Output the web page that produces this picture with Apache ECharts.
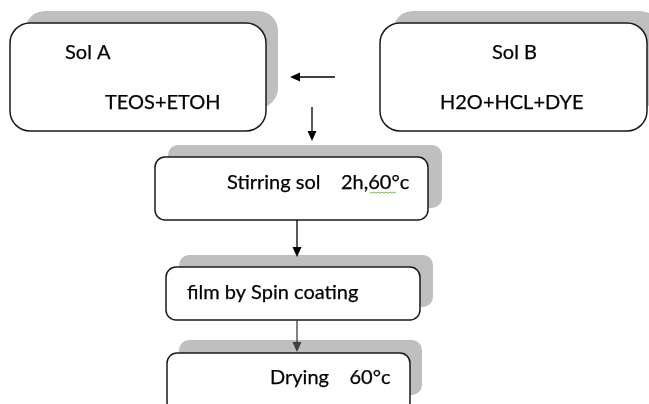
<!DOCTYPE html>
<html>
<head>
<meta charset="utf-8">
<script src="https://cdn.jsdelivr.net/npm/echarts@6/dist/echarts.min.js"></script>
<style>
html, body { margin: 0; padding: 0; background: #fff; }
#main { width: 649px; height: 404px; }
</style>
</head>
<body>
<div id="main"></div>
<script>
// step texts of the flow
var titles = ['Sol A', 'Sol B', 'Stirring sol    2h,60\u00b0c', 'film by Spin coating', 'Drying    60\u00b0c'];
var subtitles = ['TEOS+ETOH', 'H2O+HCL+DYE', '', '', ''];
// arrows: [from step, to step]
var links = [[1, 0], [0, 2], [2, 3], [3, 4]];

// layout in page units (0..649 x 0..404)
var boxLayout = [[10, 23, 266, 131], [380, 23, 647, 131], [155, 157, 428, 220], [166, 267, 420, 320], [167, 353, 410, 412]];
var shadowLayout = [[25, 11, 278, 108], [393, 11, 660, 108], [168, 145, 442, 208], [179, 255, 433, 307], [179, 340, 422, 395]];
var radiusLayout = [20, 20, 10, 10, 10];
var titlePos = [[65, 53], [492, 53], [227, 183], [187, 293], [270, 378]];
var subPos = [[105, 103], [440, 103], null, null, null];
var linkLayout = [[335, 77, 290, 77], [312, 107, 312, 141], [297, 220, 297, 257], [297, 320, 297, 352]];
var linkColor = ['#000', '#000', '#000', '#404040'];

var chart = echarts.init(document.getElementById('main'));
var font = '20px Lato';

function renderBox(params, api) {
    var i = api.value(0);
    var b = boxLayout[i], s = shadowLayout[i], r = radiusLayout[i];
    var b0 = api.coord([b[0], b[1]]), b1 = api.coord([b[2], b[3]]);
    var s0 = api.coord([s[0], s[1]]), s1 = api.coord([s[2], s[3]]);
    var children = [
        { type: 'rect', shape: { x: s0[0], y: s0[1], width: s1[0] - s0[0], height: s1[1] - s0[1], r: r },
          style: { fill: '#bfbfbf' } },
        { type: 'rect', shape: { x: b0[0], y: b0[1], width: b1[0] - b0[0], height: b1[1] - b0[1], r: r },
          style: { fill: '#fff', stroke: '#1a1a1a', lineWidth: 1.5 } }
    ];
    var t = api.coord(titlePos[i]);
    children.push({ type: 'text', style: { text: titles[i], x: t[0], y: t[1], font: font, fill: '#000',
        align: 'left', verticalAlign: 'middle', stroke: '#000', lineWidth: 0.25 } });
    if (subPos[i]) {
        var u = api.coord(subPos[i]);
        children.push({ type: 'text', style: { text: subtitles[i], x: u[0], y: u[1], font: font, fill: '#000',
            align: 'left', verticalAlign: 'middle', stroke: '#000', lineWidth: 0.25 } });
    }
    if (i === 2) {
        // spell-check squiggle under "60°c"
        var pts = [];
        for (var k = 0; k <= 13; k++) {
            pts.push(api.coord([370 + k * 2, 192 + (k % 2 ? 1.2 : 0)]));
        }
        children.push({ type: 'polyline', shape: { points: pts }, style: { stroke: '#5aa02c', lineWidth: 0.8, fill: null } });
    }
    return { type: 'group', children: children };
}

function renderLink(params, api) {
    var i = api.value(0);
    var l = linkLayout[i];
    var a = api.coord([l[0], l[1]]), b = api.coord([l[2], l[3]]);
    var dx = b[0] - a[0], dy = b[1] - a[1];
    var len = Math.sqrt(dx * dx + dy * dy);
    var ux = dx / len, uy = dy / len;
    var hl = 10, hw = 4.5;
    var base = [b[0] - ux * hl, b[1] - uy * hl];
    var c = linkColor[i];
    return { type: 'group', children: [
        { type: 'line', shape: { x1: a[0], y1: a[1], x2: base[0], y2: base[1] }, style: { stroke: c, lineWidth: 1.3 } },
        { type: 'polygon', shape: { points: [b, [base[0] - uy * hw, base[1] + ux * hw], [base[0] + uy * hw, base[1] - ux * hw]] },
          style: { fill: c } }
    ] };
}

chart.setOption({
    animation: false,
    grid: { left: 0, right: 0, top: 0, bottom: 0 },
    xAxis: { type: 'value', min: 0, max: 649, show: false },
    yAxis: { type: 'value', min: 0, max: 404, inverse: true, show: false },
    series: [
        { type: 'custom', renderItem: renderBox, data: titles.map(function (t, i) { return [i]; }), clip: false },
        { type: 'custom', renderItem: renderLink, data: links.map(function (l, i) { return [i, l[0], l[1]]; }), clip: false }
    ]
});
</script>
</body>
</html>
